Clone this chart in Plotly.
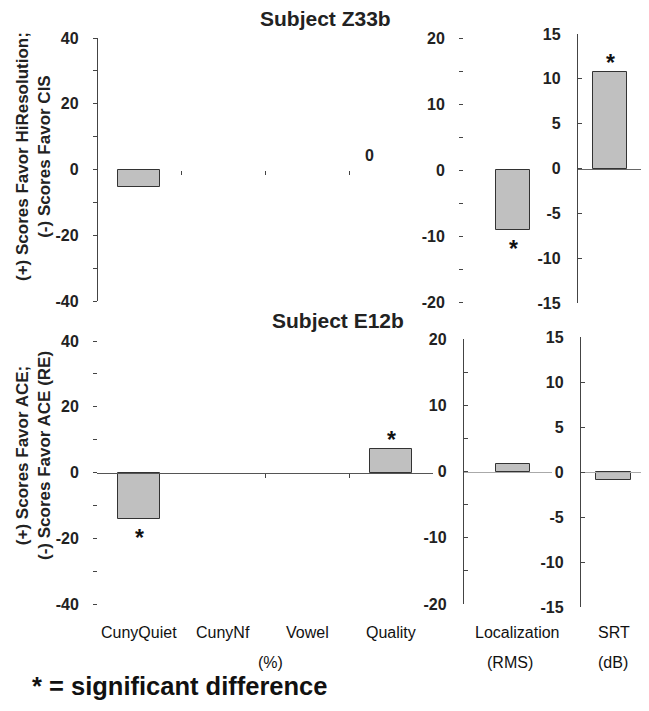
import plotly.graph_objects as go

# ---------------- data ----------------
categories_pct = ["CunyQuiet", "CunyNf", "Vowel", "Quality"]
categories_loc = ["Localization"]
categories_srt = ["SRT"]

z33b_pct = [-5.2, None, None, 0.0]
z33b_pct_sig = [False, False, False, False]
z33b_loc = [-9.1]
z33b_loc_sig = [True]
z33b_srt = [10.8]
z33b_srt_sig = [True]

e12b_pct = [-14.0, 0.0, 0.0, 7.1]
e12b_pct_sig = [True, False, False, True]
e12b_loc = [1.1]
e12b_loc_sig = [False]
e12b_srt = [-0.9]
e12b_srt_sig = [False]

pct_ticks = [-40, -30, -20, -10, 0, 10, 20, 30, 40]
pct_ticklabels = ["-40", "", "-20", "", "0", "", "20", "", "40"]
loc_ticks = [-20, -15, -10, -5, 0, 5, 10, 15, 20]
loc_ticklabels = ["-20", "", "-10", "", "0", "", "10", "", "20"]
srt_ticks = [-15, -10, -5, 0, 5, 10, 15]
srt_ticklabels = ["-15", "-10", "-5", "0", "5", "10", "15"]

titles = ["Subject Z33b", "Subject E12b"]
ytitles = ["(+) Scores Favor HiResolution;<br>(-) Scores Favor CIS",
           "(+) Scores Favor ACE;<br>(-) Scores Favor ACE (RE)"]
units = ["(%)", "(RMS)", "(dB)"]
legend_note = "* = significant difference"

# ---------------- layout helpers ----------------
W, H = 649, 711
OFF = 8  # page body margin offset


def px(x):
    return (x - OFF) / W


def py(y):
    return 1 - (y - OFF) / H


FONT = "Liberation Sans"
BAR_FILL = "#c0c0c0"
BAR_LINE = "#333333"
AX = "#444444"

panels = [
    # top row
    dict(cats=categories_pct, vals=z33b_pct, sig=z33b_pct_sig, xd=(97, 433), yd=(38, 301),
         yr=(-40, 40), tv=pct_ticks, tt=pct_ticklabels, width=0.5, xr=(-0.5, 3.5),
         yline=True, yticks="outside", xline=False, xline_color=AX, seps=[0.5, 1.5, 2.5]),
    dict(cats=categories_loc, vals=z33b_loc, sig=z33b_loc_sig, xd=(463, 552), yd=(38, 302),
         yr=(-20, 20), tv=loc_ticks, tt=loc_ticklabels, width=0.39, xr=(-0.562, 0.438),
         yline=False, yticks="outside", xline=False, xline_color=AX, seps=[]),
    dict(cats=categories_srt, vals=z33b_srt, sig=z33b_srt_sig, xd=(577, 643), yd=(34, 303),
         yr=(-15, 15), tv=srt_ticks, tt=srt_ticklabels, width=0.53, xr=(-0.5, 0.5),
         yline=True, yticks="inside", xline=True, xline_color="#666666", seps=[]),
    # bottom row
    dict(cats=categories_pct, vals=e12b_pct, sig=e12b_pct_sig, xd=(97, 433), yd=(341, 604),
         yr=(-40, 40), tv=pct_ticks, tt=pct_ticklabels, width=0.5, xr=(-0.5, 3.5),
         yline=False, yticks="outside", xline=True, xline_color="#555555", seps=[1.5, 2.5]),
    dict(cats=categories_loc, vals=e12b_loc, sig=e12b_loc_sig, xd=(463, 552), yd=(339, 604),
         yr=(-20, 20), tv=loc_ticks, tt=loc_ticklabels, width=0.39, xr=(-0.562, 0.438),
         yline=True, yticks="inside", xline=True, xline_color="#aaaaaa", seps=[]),
    dict(cats=categories_srt, vals=e12b_srt, sig=e12b_srt_sig, xd=(580, 647), yd=(337, 607),
         yr=(-15, 15), tv=srt_ticks, tt=srt_ticklabels, width=0.53, xr=(-0.5, 0.5),
         yline=True, yticks="inside", xline=True, xline_color="#aaaaaa", seps=[]),
]

fig = go.Figure()
layout = dict(width=W, height=H, margin=dict(l=0, r=0, t=0, b=0, autoexpand=False),
              paper_bgcolor="white", plot_bgcolor="rgba(0,0,0,0)",
              showlegend=False, bargap=0)

tickfont = dict(family=FONT, size=16, color="#222222", weight="bold")
annotations = []

for i, p in enumerate(panels, start=1):
    xa = "x" if i == 1 else f"x{i}"
    ya = "y" if i == 1 else f"y{i}"
    xkey = "xaxis" if i == 1 else f"xaxis{i}"
    ykey = "yaxis" if i == 1 else f"yaxis{i}"
    n = len(p["cats"])
    xs = list(range(n))
    vals = [v if v not in (None, 0, 0.0) else None for v in p["vals"]]
    fig.add_trace(go.Bar(x=xs, y=vals, width=p["width"], xaxis=xa, yaxis=ya,
                         marker=dict(color=BAR_FILL, line=dict(color=BAR_LINE, width=1)),
                         hoverinfo="skip"))
    # significance asterisks, placed at the bar end through the axis scale
    for xi, v, s in zip(xs, p["vals"], p["sig"]):
        if s:
            annotations.append(dict(text="*", x=xi, y=v, xref=xa, yref=ya, showarrow=False,
                                    xanchor="center",
                                    yanchor="bottom" if v > 0 else "top",
                                    yshift=-6 if v > 0 else -4,
                                    font=dict(family=FONT, size=23, color="#111111", weight="bold")))
    d0, d1 = py(p["yd"][1]), py(p["yd"][0])
    ymin, ymax = p["yr"]
    zero_pos = d0 + (0 - ymin) / (ymax - ymin) * (d1 - d0)
    layout[xkey] = dict(domain=[px(p["xd"][0]), px(p["xd"][1])], range=list(p["xr"]),
                        anchor="free", position=zero_pos, showgrid=False, zeroline=False,
                        showline=p["xline"], linecolor=p["xline_color"], linewidth=1.3,
                        tickmode="array", tickvals=p["seps"], ticktext=["" for _ in p["seps"]],
                        ticks="outside" if p["seps"] else "", ticklen=4, tickcolor=AX,
                        showticklabels=False, fixedrange=True, automargin=False)
    layout[ykey] = dict(domain=[d0, d1], range=list(p["yr"]), anchor="free",
                        position=px(p["xd"][0]), showgrid=False, zeroline=False,
                        showline=p["yline"], linecolor=AX, linewidth=1.3,
                        tickmode="array", tickvals=p["tv"], ticktext=p["tt"],
                        ticks=p["yticks"], ticklen=4, tickcolor=AX, tickwidth=1.2,
                        tickfont=tickfont, ticklabelstandoff=11 if p["yticks"] == "outside" else 13,
                        fixedrange=True, automargin=False)

# panel titles
annotations.append(dict(text=titles[0], x=px(325), y=py(18), xref="paper", yref="paper",
                        xanchor="center", yanchor="middle", showarrow=False,
                        font=dict(family=FONT, size=21, color="#222222", weight="bold")))
annotations.append(dict(text=titles[1], x=px(338), y=py(320), xref="paper", yref="paper",
                        xanchor="center", yanchor="middle", showarrow=False,
                        font=dict(family=FONT, size=21, color="#222222", weight="bold")))
# y titles
for t, yc in zip(ytitles, [157, 456]):
    annotations.append(dict(text=t, x=px(33), y=py(yc), xref="paper", yref="paper",
                            xanchor="center", yanchor="middle",
                            textangle=-90, showarrow=False, align="center",
                            font=dict(family=FONT, size=17, color="#222222", weight="bold")))
# category labels under bottom row
lab_font = dict(family=FONT, size=16, color="#111111")
for i, c in enumerate(categories_pct):
    annotations.append(dict(text=c, x=i, y=py(632), xref="x4", yref="paper", showarrow=False,
                            xanchor="center", yanchor="middle", font=lab_font))
annotations.append(dict(text=categories_loc[0], x=0.05, y=py(632), xref="x5", yref="paper",
                        xanchor="center", yanchor="middle", showarrow=False, font=lab_font))
annotations.append(dict(text=categories_srt[0], x=0, y=py(632), xref="x6", yref="paper",
                        xanchor="center", yanchor="middle", showarrow=False, font=lab_font))
for u, xc in zip(units, [270, 510, 613]):
    annotations.append(dict(text=u, x=px(xc), y=py(662), xref="paper", yref="paper",
                            xanchor="center", yanchor="middle", showarrow=False, font=lab_font))
# "0" value label for Z33b Quality
annotations.append(dict(text="0", x=3, y=0, xref="x", yref="y", yanchor="bottom",
                        xshift=-22, yshift=4, showarrow=False,
                        font=dict(family=FONT, size=16, color="#222222", weight="bold")))
# note
annotations.append(dict(text=legend_note, x=px(30), y=py(686), xref="paper", yref="paper",
                        xanchor="left", yanchor="middle", showarrow=False,
                        font=dict(family=FONT, size=25.5, color="#111111", weight="bold")))

layout["annotations"] = annotations
fig.update_layout(**layout)
fig.write_html("out.html")
